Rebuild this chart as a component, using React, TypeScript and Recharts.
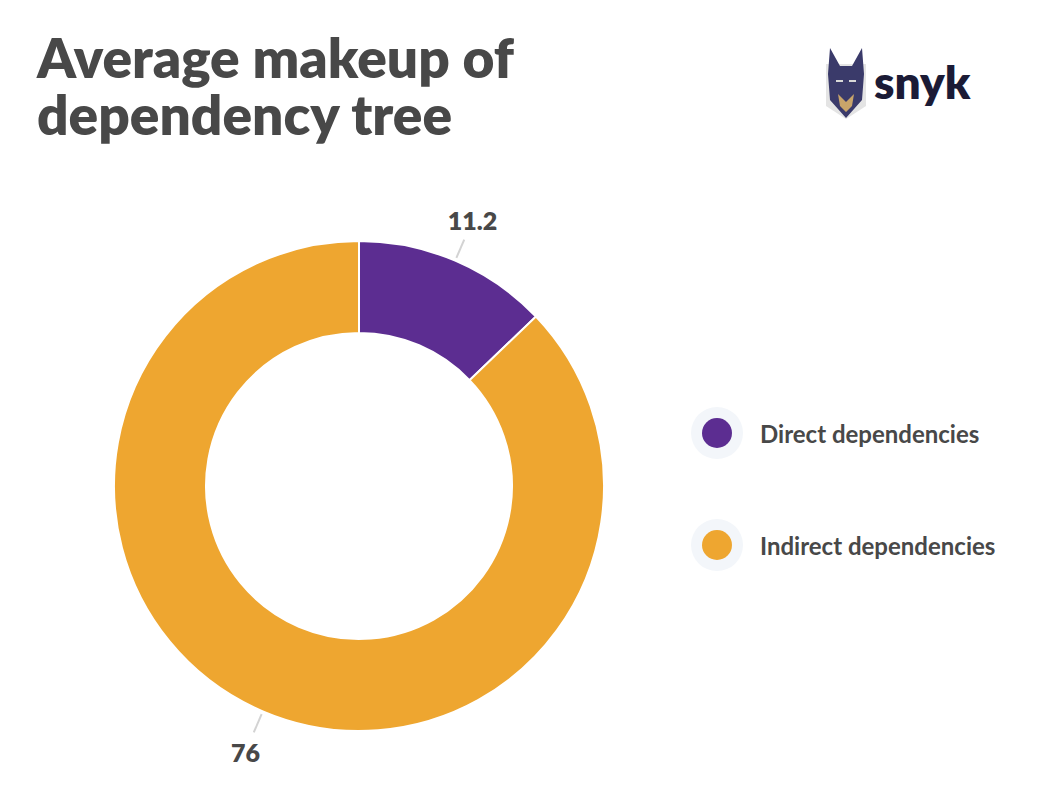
import { Legend, Pie, PieChart, Cell } from 'recharts';

const categories = ['Direct dependencies', 'Indirect dependencies'];
const values = [11.2, 76];
const colors = ['#5c2d91', '#eea630'];
const title = ['Average makeup of', 'dependency tree'];

const data = categories.map((name, i) => ({ name, value: values[i] }));

const RAD = Math.PI / 180;

function renderLabel(props: any) {
  const { cx, cy, midAngle, outerRadius, value } = props;
  const cos = Math.cos(-midAngle * RAD);
  const sin = Math.sin(-midAngle * RAD);
  const r1 = outerRadius + 3;
  const r2 = outerRadius + 23;
  const r3 = outerRadius + 44;
  return (
    <g>
      <line
        x1={cx + r1 * cos}
        y1={cy + r1 * sin}
        x2={cx + r2 * cos}
        y2={cy + r2 * sin}
        stroke="#d3d3d3"
        strokeWidth={2}
      />
      <text
        x={cx + r3 * cos}
        y={cy + r3 * sin}
        textAnchor="middle"
        dominantBaseline="central"
        fill="#484848"
        fontSize={25}
        fontWeight={800}
        fontFamily="Lato, 'Open Sans', sans-serif"
      >
        {value}
      </text>
    </g>
  );
}

function LegendContent({ payload }: any) {
  return (
    <div>
      {(payload || []).map((p: any, i: number) => (
        <div key={i} style={{ display: 'flex', alignItems: 'center', height: 112 }}>
          <svg width={52} height={52}>
            <circle cx={26} cy={26} r={26} fill="#f3f6fa" />
            <circle cx={26} cy={26} r={15} fill={p.color} />
          </svg>
          <span
            style={{
              marginLeft: 17,
              fontSize: 24,
              fontWeight: 700,
              color: '#484848',
              fontFamily: "Lato, 'Open Sans', sans-serif",
            }}
          >
            {p.value}
          </span>
        </div>
      ))}
    </div>
  );
}

function SnykLogo() {
  return (
    <svg width={170} height={80} style={{ position: 'absolute', left: 822, top: 44 }}>
      <polygon points="4,20 44,20 44,62 24,75 4,62" fill="#e4e4e4" />
      <polygon
        points="8,4 18,22 30,22 40,4 42,30 40,56 24,74 8,56 6,30"
        fill="#3a3a6a"
      />
      <polygon points="16,50 24,58 32,50 30,62 24,68 18,62" fill="#c9a56a" />
      <rect x={14} y={36} width={7} height={2} fill="#d8d8d8" />
      <rect x={27} y={36} width={7} height={2} fill="#d8d8d8" />
      <text
        x={52}
        y={55}
        fontSize={46}
        fontWeight={800}
        fill="#1b1b36"
        fontFamily="Lato, 'Open Sans', sans-serif"
      >
        snyk
      </text>
    </svg>
  );
}

export default function App() {
  return (
    <div
      style={{
        position: 'absolute',
        left: 0,
        top: 0,
        width: 1037,
        height: 799,
        background: '#ffffff',
        fontFamily: "Lato, 'Open Sans', sans-serif",
      }}
    >
      <div
        style={{
          position: 'absolute',
          left: 37,
          top: 29,
          fontSize: 55,
          fontWeight: 800,
          lineHeight: '57px',
          color: '#484848',
        }}
      >
        {title[0]}
        <br />
        {title[1]}
      </div>
      <SnykLogo />
      <PieChart
        width={1037}
        height={799}
        margin={{ top: 0, right: 0, bottom: 0, left: 0 }}
        style={{ position: 'absolute', left: 0, top: 0 }}
      >
        <Pie
          data={data}
          dataKey="value"
          nameKey="name"
          cx={359}
          cy={486}
          innerRadius={153}
          outerRadius={245}
          startAngle={90}
          endAngle={-270}
          stroke="#ffffff"
          strokeWidth={2}
          label={renderLabel}
          labelLine={false}
          isAnimationActive={false}
        >
          {data.map((d, i) => (
            <Cell key={d.name} fill={colors[i]} />
          ))}
        </Pie>
        <Legend
          layout="vertical"
          content={<LegendContent />}
          wrapperStyle={{ position: 'absolute', left: 691, top: 377, width: 340 }}
        />
      </PieChart>
    </div>
  );
}
